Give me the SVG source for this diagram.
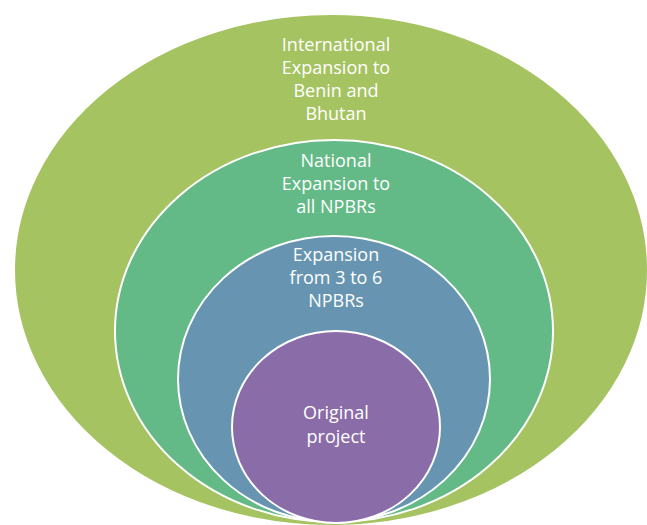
<svg xmlns="http://www.w3.org/2000/svg" width="647" height="525" viewBox="0 0 647 525">
<style>
.ring{stroke:#ffffff;stroke-width:2}
.t{font-family:"Open Sans","Noto Sans",sans-serif;font-size:18px;fill:#ffffff;text-anchor:middle}
</style>
<rect width="647" height="525" fill="#ffffff"/>
<g id="international">
<ellipse class="ring" cx="331" cy="270" rx="317" ry="256" fill="#a6c362"/>
<text class="t" x="336" y="51">International</text>
<text class="t" x="336" y="74">Expansion to</text>
<text class="t" x="336" y="97">Benin and</text>
<text class="t" x="336" y="120">Bhutan</text>
</g>
<g id="national">
<ellipse class="ring" cx="334" cy="331" rx="219" ry="191" fill="#63ba86"/>
<text class="t" x="336" y="167">National</text>
<text class="t" x="336" y="190">Expansion to</text>
<text class="t" x="336" y="213">all NPBRs</text>
</g>
<g id="expansion">
<ellipse class="ring" cx="334" cy="379" rx="156" ry="143" fill="#6795b1"/>
<text class="t" x="336" y="261">Expansion</text>
<text class="t" x="336" y="284">from 3 to 6</text>
<text class="t" x="336" y="307">NPBRs</text>
</g>
<g id="original">
<ellipse class="ring" cx="336" cy="427" rx="104" ry="96" fill="#8a6ca8"/>
<text class="t" x="336" y="419">Original</text>
<text class="t" x="336" y="443">project</text>
</g>
<g id="connectors"/>
</svg>
